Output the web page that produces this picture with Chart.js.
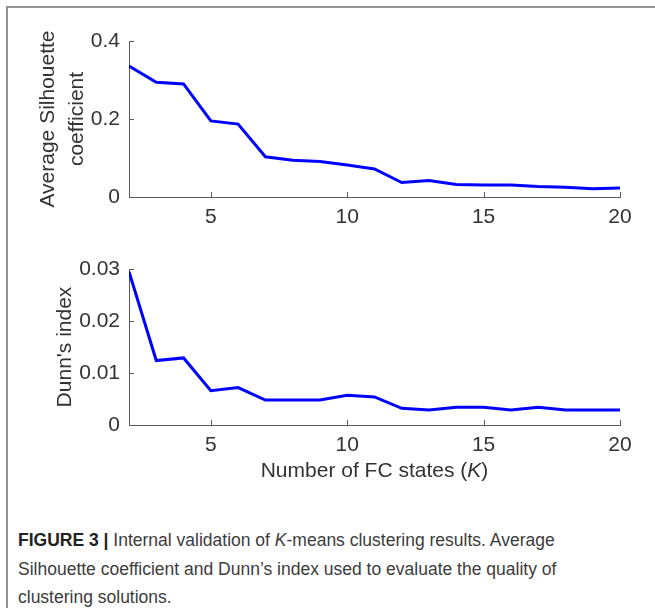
<!DOCTYPE html>
<html>
<head>
<meta charset="utf-8">
<script src="https://cdn.jsdelivr.net/npm/chart.js@4"></script>
<style>
  html, body { margin: 0; padding: 0; background: #fff; }
  #page { position: relative; width: 655px; height: 608px; overflow: hidden; }
  #frame { position: absolute; left: 6px; top: 6px; right: -10px; bottom: -10px;
           border-top: 2px solid #939393; border-left: 2px solid #939393; }
  canvas { position: absolute; left: 0; }
  #xtitle { position: absolute; left: 129px; width: 491px; top: 457px; text-align: center;
            font: 21px "Liberation Sans", Arial, sans-serif; line-height: 25px; color: #333; }
  #caption { position: absolute; left: 18px; top: 526px; width: 635px;
             font: 17.5px "Liberation Sans", Arial, sans-serif; line-height: 28.5px; color: #3c3c3c; }
  #caption b { color: #222; }
</style>
</head>
<body>
<div id="page">
  <div id="frame"></div>
  <canvas id="silChart" width="655" height="240" style="top:0"></canvas>
  <canvas id="dunnChart" width="655" height="230" style="top:240px"></canvas>
  <div id="xtitle">Number of FC states (<i>K</i>)</div>
  <div id="caption">
    <div><b>FIGURE 3 |</b> Internal validation of <i>K</i>-means clustering results. Average</div>
    <div>Silhouette coefficient and Dunn’s index used to evaluate the quality of</div>
    <div>clustering solutions.</div>
  </div>
</div>
<script>
const kValues = [2, 3, 4, 5, 6, 7, 8, 9, 10, 11, 12, 13, 14, 15, 16, 17, 18, 19, 20];
const silhouette = [0.336, 0.294, 0.290, 0.195, 0.187, 0.103, 0.094, 0.091, 0.082, 0.072,
                    0.037, 0.042, 0.032, 0.031, 0.031, 0.027, 0.025, 0.021, 0.023];
const dunn = [0.0295, 0.0124, 0.0129, 0.0066, 0.0072, 0.0048, 0.0048, 0.0048, 0.0057, 0.0054,
              0.0032, 0.0029, 0.0034, 0.0034, 0.0029, 0.0034, 0.0029, 0.0029, 0.0029];
const xTicks = [5, 10, 15, 20];
const silTicks = [0, 0.2, 0.4];
const dunnTicks = [0, 0.01, 0.02, 0.03];

const axisColor = "#5a5a5a";
const textColor = "#333";
const lineColor = "#0000ff";
const font = { family: "'Liberation Sans', Arial, sans-serif", size: 21 };

// matlab style ticks pointing into the plot
const inwardTicks = {
  id: "inwardTicks",
  afterDraw(chart) {
    const { ctx, scales: { x, y } } = chart;
    ctx.save();
    ctx.strokeStyle = axisColor;
    ctx.lineWidth = 1;
    x.ticks.forEach((t) => {
      const px = Math.round(x.getPixelForValue(t.value)) + 0.5;
      ctx.beginPath();
      ctx.moveTo(px, y.bottom);
      ctx.lineTo(px, y.bottom - 5);
      ctx.stroke();
    });
    y.ticks.forEach((t) => {
      const py = Math.round(y.getPixelForValue(t.value)) + 0.5;
      ctx.beginPath();
      ctx.moveTo(x.left, py);
      ctx.lineTo(x.left + 5, py);
      ctx.stroke();
    });
    ctx.restore();
  },
};

function makeChart(id, values, yTicks, yMax, yTitle, titlePad, padTop, xHeight) {
  return new Chart(document.getElementById(id), {
    type: "line",
    data: {
      datasets: [
        {
          data: kValues.map((k, i) => ({ x: k, y: values[i] })),
          borderColor: lineColor,
          borderWidth: 3,
          pointRadius: 0,
          tension: 0,
          fill: false,
        },
      ],
    },
    options: {
      responsive: false,
      animation: false,
      layout: { padding: { top: padTop, right: 35, left: 0, bottom: 0 } },
      plugins: { legend: { display: false }, tooltip: { enabled: false } },
      scales: {
        x: {
          type: "linear",
          min: 2,
          max: 20,
          grid: { display: false, drawTicks: false },
          border: { color: axisColor, width: 1 },
          afterBuildTicks: (s) => { s.ticks = xTicks.map((v) => ({ value: v })); },
          afterFit: (s) => { s.height = xHeight; },
          ticks: { color: textColor, font, padding: 8, maxRotation: 0, callback: (v) => String(v) },
        },
        y: {
          min: 0,
          max: yMax,
          grid: { display: false, drawTicks: false },
          border: { color: axisColor, width: 1 },
          afterBuildTicks: (s) => { s.ticks = yTicks.map((v) => ({ value: v })); },
          afterFit: (s) => { s.width = 129; },
          ticks: { color: textColor, font, padding: 9, callback: (v) => String(v) },
          title: {
            display: true,
            text: yTitle,
            color: textColor,
            font: { ...font, lineHeight: 1.36 },
            padding: { top: titlePad, bottom: 0 },
          },
        },
      },
    },
    plugins: [inwardTicks],
  });
}

makeChart("silChart", silhouette, silTicks, 0.4, ["Average Silhouette", "coefficient"], 34, 41, 43);
makeChart("dunnChart", dunn, dunnTicks, 0.03, "Dunn's index", 51, 29, 45);
</script>
</body>
</html>
